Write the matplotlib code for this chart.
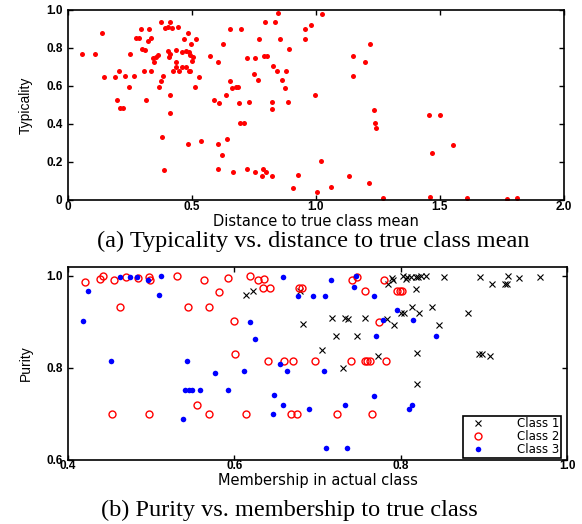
"""
Typicality and purity scatter charts.
"""

import matplotlib
matplotlib.use("Agg")
import matplotlib.pyplot as plt


# (a) typicality vs. distance to true class mean
distance = [
    0.058, 0.109, 0.139, 0.147, 0.189, 0.196, 0.206, 0.209, 0.220, 0.231,
    0.247, 0.250, 0.267, 0.274, 0.285, 0.294, 0.297, 0.310, 0.308, 0.314,
    0.323, 0.328, 0.336, 0.336, 0.344, 0.348, 0.355, 0.363, 0.366, 0.374,
    0.374, 0.378, 0.382, 0.387, 0.391, 0.402, 0.402, 0.409, 0.412, 0.413,
    0.412, 0.410, 0.420, 0.422, 0.436, 0.436, 0.436, 0.442, 0.449, 0.460,
    0.460, 0.466, 0.474, 0.476, 0.483, 0.483, 0.487, 0.487, 0.492, 0.490,
    0.494, 0.500, 0.503, 0.511, 0.517, 0.528, 0.538, 0.574, 0.590, 0.605,
    0.605, 0.605, 0.609, 0.622, 0.625, 0.636, 0.642, 0.652, 0.655, 0.661,
    0.665, 0.679, 0.684, 0.690, 0.695, 0.698, 0.710, 0.720, 0.723, 0.729,
    0.750, 0.756, 0.756, 0.768, 0.771, 0.785, 0.784, 0.790, 0.796, 0.800,
    0.804, 0.823, 0.824, 0.824, 0.827, 0.836, 0.843, 0.847, 0.854, 0.864,
    0.876, 0.878, 0.889, 0.893, 0.908, 0.926,
    1.023, 0.980, 0.955, 0.955, 1.216, 1.148, 1.197, 1.151, 0.996, 1.232,
    1.457, 1.499, 1.236, 1.240, 1.553, 1.468, 1.020, 1.135, 1.215, 1.059,
    1.003, 1.270, 1.459, 1.610, 1.769, 1.810,
]

typicality = [
    0.771, 0.771, 0.880, 0.646, 0.646, 0.525, 0.681, 0.482, 0.482, 0.653,
    0.597, 0.771, 0.653, 0.852, 0.852, 0.901, 0.796, 0.790, 0.678, 0.528,
    0.838, 0.901, 0.852, 0.680, 0.746, 0.727, 0.754, 0.761, 0.597, 0.625,
    0.938, 0.331, 0.651, 0.157, 0.907, 0.912, 0.783, 0.754, 0.938, 0.771,
    0.555, 0.458, 0.907, 0.681, 0.725, 0.701, 0.789, 0.912, 0.678, 0.780,
    0.701, 0.845, 0.783, 0.701, 0.880, 0.296, 0.778, 0.678, 0.678, 0.762,
    0.820, 0.729, 0.752, 0.597, 0.845, 0.646, 0.312, 0.759, 0.528, 0.727,
    0.296, 0.164, 0.511, 0.238, 0.820, 0.555, 0.322, 0.901, 0.625, 0.590,
    0.146, 0.593, 0.593, 0.511, 0.405, 0.901, 0.405, 0.746, 0.162, 0.516,
    0.664, 0.746, 0.146, 0.634, 0.845, 0.162, 0.127, 0.759, 0.938, 0.146,
    0.759, 0.127, 0.516, 0.481, 0.704, 0.938, 0.678, 0.986, 0.845, 0.634,
    0.590, 0.678, 0.516, 0.796, 0.062, 0.132,
    0.977, 0.921, 0.901, 0.845, 0.819, 0.757, 0.727, 0.651, 0.553, 0.472,
    0.447, 0.447, 0.407, 0.377, 0.289, 0.250, 0.204, 0.125, 0.088, 0.070,
    0.044, 0.012, 0.018, 0.012, 0.005, 0.012,
]

# (b) purity vs. membership, one pair of lists per class
class1_membership = [
    0.614, 0.623, 0.679, 0.682, 0.706, 0.717, 0.722, 0.731, 0.733, 0.737,
    0.747, 0.757, 0.773, 0.783, 0.785, 0.789, 0.791, 0.792, 0.801, 0.804,
    0.803, 0.808, 0.807, 0.813, 0.814, 0.818, 0.818, 0.820, 0.820, 0.821,
    0.822, 0.825, 0.830, 0.838, 0.846, 0.852, 0.881, 0.894, 0.898, 0.907,
    0.895, 0.910, 0.925, 0.928, 0.929, 0.942, 0.968,
]
class1_purity = [
    0.959, 0.966, 0.967, 0.895, 0.838, 0.909, 0.869, 0.799, 0.909, 0.907,
    0.869, 0.909, 0.825, 0.907, 0.982, 0.996, 0.991, 0.894, 0.920, 0.920,
    0.999, 0.997, 0.992, 0.998, 0.933, 0.998, 0.972, 0.832, 0.766, 0.998,
    0.920, 0.999, 0.999, 0.933, 0.894, 0.997, 0.920, 0.830, 0.830, 0.825,
    0.997, 0.982, 0.982, 0.982, 1.000, 0.996, 0.998,
]

class2_membership = [
    0.421, 0.438, 0.442, 0.455, 0.462, 0.470, 0.484, 0.497, 0.499, 0.531,
    0.544, 0.563, 0.569, 0.581, 0.592, 0.600, 0.601, 0.619, 0.628, 0.636,
    0.635, 0.643, 0.641, 0.660, 0.670, 0.678, 0.681, 0.555, 0.453, 0.497,
    0.569, 0.614, 0.668, 0.675, 0.697, 0.723, 0.741, 0.748, 0.740, 0.757,
    0.757, 0.760, 0.763, 0.766, 0.774, 0.780, 0.782, 0.796, 0.799, 0.802,
]
class2_purity = [
    0.986, 0.993, 1.000, 0.991, 0.933, 0.997, 0.996, 0.997, 0.991, 1.000,
    0.933, 0.991, 0.933, 0.965, 0.996, 0.901, 0.830, 1.000, 0.990, 0.994,
    0.973, 0.973, 0.814, 0.814, 0.814, 0.973, 0.973, 0.719, 0.700, 0.700,
    0.700, 0.700, 0.700, 0.700, 0.816, 0.700, 0.991, 0.997, 0.816, 0.967,
    0.816, 0.816, 0.816, 0.700, 0.900, 0.991, 0.814, 0.967, 0.967, 0.967,
]

class3_membership = [
    0.418, 0.424, 0.452, 0.463, 0.475, 0.483, 0.496, 0.510, 0.512, 0.538,
    0.543, 0.541, 0.545, 0.549, 0.559, 0.577, 0.592, 0.612, 0.619, 0.625,
    0.648, 0.647, 0.655, 0.658, 0.658, 0.663, 0.677, 0.690, 0.694, 0.708,
    0.709, 0.710, 0.716, 0.733, 0.736, 0.744, 0.746, 0.768, 0.768, 0.770,
    0.779, 0.796, 0.810, 0.814, 0.815, 0.843,
]
class3_purity = [
    0.901, 0.967, 0.814, 0.998, 0.998, 0.998, 0.991, 0.959, 1.000, 0.688,
    0.814, 0.752, 0.752, 0.752, 0.752, 0.788, 0.752, 0.794, 0.900, 0.862,
    0.741, 0.700, 0.809, 0.719, 0.998, 0.794, 0.957, 0.710, 0.956, 0.794,
    0.957, 0.627, 0.991, 0.719, 0.627, 0.975, 0.999, 0.957, 0.740, 0.870,
    0.904, 0.926, 0.710, 0.719, 0.904, 0.870,
]

top_xticks = [0, 0.5, 1.0, 1.5, 2.0]
top_xticklabels = ["0", "0.5", "1.0", "1.5", "2.0"]
top_yticks = [0, 0.2, 0.4, 0.6, 0.8, 1.0]
top_yticklabels = ["0", "0.2", "0.4", "0.6", "0.8", "1.0"]
bottom_xticks = [0.4, 0.6, 0.8, 1.0]
bottom_xticklabels = ["0.4", "0.6", "0.8", "1.0"]
bottom_yticks = [0.6, 0.8, 1.0]
bottom_yticklabels = ["0.6", "0.8", "1.0"]
class_labels = ["Class 1", "Class 2", "Class 3"]

TICK_FONT = dict(family="Liberation Sans", weight="bold", size=8.5)
LABEL_FONT = dict(family="DejaVu Sans", size=10.5)
YLABEL_FONT = dict(family=["Liberation Sans Narrow", "Liberation Sans"], size=10)
CAPTION_FONT = dict(family="Liberation Serif", size=17.5)


def style_axes(ax, xticks, xticklabels, yticks, yticklabels):
    """
    MATLAB-like box with inward ticks on all sides.
    """

    ax.set_xticks(xticks)
    ax.set_xticklabels(xticklabels, fontdict=TICK_FONT)
    ax.set_yticks(yticks)
    ax.set_yticklabels(yticklabels, fontdict=TICK_FONT)
    ax.tick_params(direction="in", length=3.5, width=1, top=True,
                   right=True, pad=1.0, colors="black")
    ax.tick_params(axis="y", pad=4)
    for spine in ax.spines.values():
        spine.set_linewidth(1.2)


def create_charts():
    """
    Draw both panels and their captions.
    """

    fig = plt.figure(figsize=(5.82, 5.24), dpi=100)

    ax1 = fig.add_axes([68 / 582, 1 - 200 / 524, 496 / 582, 190 / 524])
    ax1.plot(distance, typicality, linestyle="none", marker="o",
             markersize=3.6, color="red", markeredgewidth=0)
    ax1.set_xlim(0, 2.0)
    ax1.set_ylim(0, 1.0)
    style_axes(ax1, top_xticks, top_xticklabels, top_yticks, top_yticklabels)
    ax1.set_xlabel("Distance to true class mean", fontdict=LABEL_FONT)
    ax1.xaxis.set_label_coords(0.5, -0.074)
    ax1.set_ylabel("Typicality", fontdict=YLABEL_FONT)
    ax1.yaxis.set_label_coords(-0.0706, 0.5)

    ax2 = fig.add_axes([68 / 582, 1 - 460 / 524, 499 / 582, 193 / 524])
    ax2.plot(class1_membership, class1_purity, linestyle="none", marker="x",
             markersize=4.2, markeredgewidth=0.8, color="black",
             label=class_labels[0])
    ax2.plot(class2_membership, class2_purity, linestyle="none", marker="o",
             markersize=5, markeredgewidth=1, markerfacecolor="none",
             markeredgecolor="red", label=class_labels[1])
    ax2.plot(class3_membership, class3_purity, linestyle="none", marker="o",
             markersize=4, markeredgewidth=0, color="blue",
             label=class_labels[2])
    ax2.set_xlim(0.4, 1.0)
    ax2.set_ylim(0.6, 1.019)
    style_axes(ax2, bottom_xticks, bottom_xticklabels, bottom_yticks,
               bottom_yticklabels)
    ax2.tick_params(axis="x", pad=0.3)
    ax2.set_xlabel("Membership in actual class", fontdict=LABEL_FONT)
    ax2.xaxis.set_label_coords(0.5, -0.068)
    ax2.set_ylabel("Purity", fontdict=YLABEL_FONT)
    ax2.yaxis.set_label_coords(-0.0701, 0.5)

    legend = ax2.legend(
        loc="lower right", bbox_to_anchor=(0.988, 0.010), borderaxespad=0,
        prop=dict(family="DejaVu Sans", size=8.5), handlelength=2.2,
        handletextpad=2.2, labelspacing=0.0, borderpad=0.15,
        fancybox=False, framealpha=1, edgecolor="black")
    legend.get_frame().set_linewidth(1.2)

    fig.text(313 / 582, 1 - 241 / 524,
             "(a) Typicality vs. distance to true class mean",
             ha="center", va="center", fontdict=CAPTION_FONT)
    fig.text(289 / 582, 1 - 510 / 524,
             "(b) Purity vs. membership to true class",
             ha="center", va="center", fontdict=CAPTION_FONT)

    fig.savefig("out.png", dpi=100)


if __name__ == "__main__":

    create_charts()
